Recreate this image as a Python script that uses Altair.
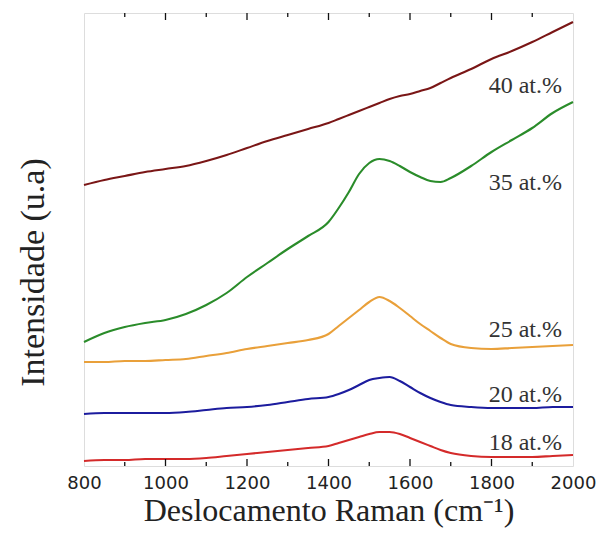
import altair as alt
import pandas as pd

wavenumber = [800, 850, 900, 950, 1000, 1050, 1100, 1150, 1200, 1250, 1300, 1350,
              1400, 1425, 1450, 1475, 1500, 1525, 1550, 1575, 1600, 1625, 1650,
              1675, 1700, 1750, 1800, 1850, 1900, 1950, 2000]

i18 = [5, 6, 6, 7, 7, 7, 8, 10, 12, 14, 16, 18, 20, 23, 26, 29, 32, 34, 34, 32,
       28, 24, 20, 16, 13, 10, 9, 9, 9, 10, 11]
i20 = [52, 53, 53, 53, 53, 54, 56, 58, 59, 61, 64, 67, 69, 72, 76, 81, 86, 88,
       89, 85, 79, 73, 68, 64, 61, 59, 58, 58, 58, 59, 59]
i25 = [104, 104, 105, 105, 106, 107, 110, 113, 117, 120, 123, 126, 132, 140,
       148, 156, 164, 169, 165, 158, 150, 142, 135, 128, 122, 118, 117, 118,
       119, 120, 121]
i35 = [124, 133, 139, 143, 146, 152, 161, 173, 189, 203, 217, 230, 244, 258,
       274, 292, 303, 307, 305, 300, 294, 289, 285, 284, 288, 300, 314, 326,
       338, 353, 364]
i40 = [281, 286, 290, 294, 297, 300, 305, 311, 318, 325, 331, 337, 343, 347,
       351, 355, 359, 363, 367, 370, 372, 375, 378, 383, 388, 397, 407, 415,
       424, 434, 444]

series = ["18 at.%", "20 at.%", "25 at.%", "35 at.%", "40 at.%"]
colors = ["#d42a2a", "#1c1c9e", "#e9a03a", "#2a8c2a", "#7a1616"]
label_y = [23, 71, 136, 283, 380]
label_x = 1973

tick_labels = [800, 1000, 1200, 1400, 1600, 1800, 2000]
major_ticks = [1000, 1200, 1400, 1600, 1800]
minor_ticks = [900, 1100, 1300, 1500, 1700, 1900]

SERIF = "Liberation Serif, Times New Roman, Times, serif"

rows = []
for name, vals in zip(series, [i18, i20, i25, i35, i40]):
    for w, v in zip(wavenumber, vals):
        rows.append({"w": w, "I": v, "s": name})
df = pd.DataFrame(rows)

lab_df = pd.DataFrame({"s": series, "y": label_y, "x": [label_x] * len(series)})
major_df = pd.DataFrame({"w": major_ticks})
minor_df = pd.DataFrame({"w": minor_ticks})

W, H = 489, 453
xs = alt.Scale(domain=[800, 2000], nice=False, zero=False)
ys = alt.Scale(domain=[0, 453], nice=False)

lines = alt.Chart(df).mark_line(strokeWidth=2.1, interpolate="monotone").encode(
    x=alt.X("w:Q", scale=xs, axis=alt.Axis(
        values=tick_labels, ticks=False, domain=False, grid=False,
        labelFont="DejaVu Sans", labelFontSize=18, labelColor="#222",
        labelPadding=8, labelFlush=False, labelOverlap=False, labelBound=False,
        format="d",
        title="Deslocamento Raman (cm⁻¹)", titleFont=SERIF,
        titleFontSize=32, titleFontWeight="normal", titleColor="#222",
        titleY=54, titleBaseline="alphabetic")),
    y=alt.Y("I:Q", scale=ys, axis=alt.Axis(
        labels=False, ticks=False, domain=False, grid=False,
        title="Intensidade (u.a)", titleFont=SERIF,
        titleFontSize=34, titleFontWeight="normal", titleColor="#222",
        titleAngle=270, titleX=-41, titleY=259, titleAlign="center",
        titleBaseline="alphabetic")),
    color=alt.Color("s:N", scale=alt.Scale(domain=series, range=colors), legend=None),
    detail="s:N",
)

texts = alt.Chart(lab_df).mark_text(
    align="right", baseline="middle", font=SERIF, fontSize=24,
    color="#333").encode(
    x=alt.X("x:Q", scale=xs),
    y=alt.Y("y:Q", scale=ys),
    text="s:N",
)

def tickrules(data, y0, y1):
    return alt.Chart(data).mark_rule(color="#111", strokeWidth=1.3).encode(
        x=alt.X("w:Q", scale=xs), y=alt.value(y0), y2=alt.value(y1))

ticks = (tickrules(major_df, H, H - 7) + tickrules(minor_df, H, H - 4)
         + tickrules(major_df, 0, 7) + tickrules(minor_df, 0, 4))

chart = alt.layer(lines, texts, ticks).properties(
    width=W, height=H,
    padding={"left": 84, "top": 13, "right": 29, "bottom": 72},
    autosize=alt.AutoSizeParams(type="none"),
).configure_view(stroke="#111", strokeWidth=1.3).configure(background="white")

chart.save("out.html", embed_options={"renderer": "svg", "actions": False})
